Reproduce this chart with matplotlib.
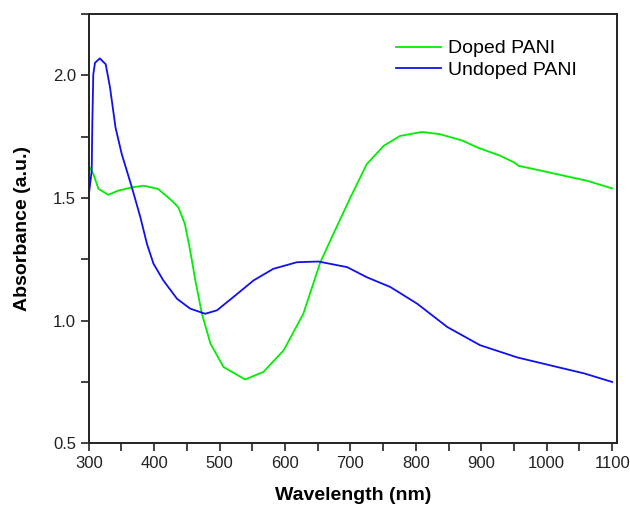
import matplotlib
matplotlib.use('Agg')
import matplotlib.pyplot as plt
from matplotlib.ticker import MultipleLocator

plt.rcParams['font.family'] = ['Liberation Sans', 'DejaVu Sans']

# Doped PANI (green)
doped_x = [300, 307, 315, 330, 345, 366, 384, 406, 427, 437, 447, 455, 463, 473,
           486, 506, 539, 567, 598, 628, 654, 674, 700, 725, 751, 776, 809, 837,
           870, 894, 929, 950, 957, 980, 1031, 1062, 1100]
doped_y = [1.631, 1.598, 1.537, 1.513, 1.530, 1.543, 1.550, 1.537, 1.489, 1.462,
           1.394, 1.286, 1.164, 1.028, 0.907, 0.811, 0.760, 0.791, 0.879, 1.028,
           1.238, 1.354, 1.502, 1.638, 1.713, 1.753, 1.769, 1.760, 1.735, 1.706,
           1.672, 1.645, 1.631, 1.618, 1.588, 1.570, 1.539]

# Undoped PANI (blue)
undoped_x = [300, 304.6, 305.5, 307, 309.6, 317, 326, 332.6, 341, 350.5, 366, 379,
             389, 399, 414, 435, 455, 478, 496, 521, 552, 582, 618, 651, 695, 725,
             761, 802, 848, 898, 955, 1016, 1057, 1100]
undoped_y = [1.509, 1.611, 1.80, 2.004, 2.051, 2.069, 2.045, 1.950, 1.787, 1.679,
             1.543, 1.421, 1.313, 1.232, 1.164, 1.089, 1.049, 1.028, 1.042, 1.096,
             1.164, 1.211, 1.238, 1.241, 1.218, 1.177, 1.137, 1.069, 0.974, 0.90,
             0.850, 0.811, 0.785, 0.750]

fig = plt.figure(figsize=(6.3, 5.05), dpi=100)
ax = fig.add_axes([0.1408, 0.1222, 0.8392, 0.8501])

ax.plot(doped_x, doped_y, color='#00ee00', lw=1.3, label='Doped PANI')
ax.plot(undoped_x, undoped_y, color='#1010ee', lw=1.3, label='Undoped PANI')

ax.set_xlim(300, 1108)
ax.set_ylim(0.5, 2.25)
ax.xaxis.set_major_locator(MultipleLocator(100))
ax.xaxis.set_minor_locator(MultipleLocator(50))
ax.yaxis.set_major_locator(MultipleLocator(0.5))
ax.yaxis.set_minor_locator(MultipleLocator(0.25))
ax.tick_params(which='both', direction='out', length=6, width=1.2,
               top=False, right=False, labelsize=12, colors='#222222', pad=3)
for s in ax.spines.values():
    s.set_linewidth(1.4)
    s.set_color('#222222')

ax.set_xlabel('Wavelength (nm)', fontsize=14, fontweight='bold', labelpad=12)
ax.set_ylabel('Absorbance (a.u.)', fontsize=14, fontweight='bold', labelpad=16)

ax.legend(loc='upper left', frameon=False, fontsize=14, handlelength=2.3,
          handletextpad=0.35, labelspacing=0.2, borderaxespad=0.0,
          bbox_to_anchor=(0.567, 0.958))

fig.savefig('out.png', dpi=100)
